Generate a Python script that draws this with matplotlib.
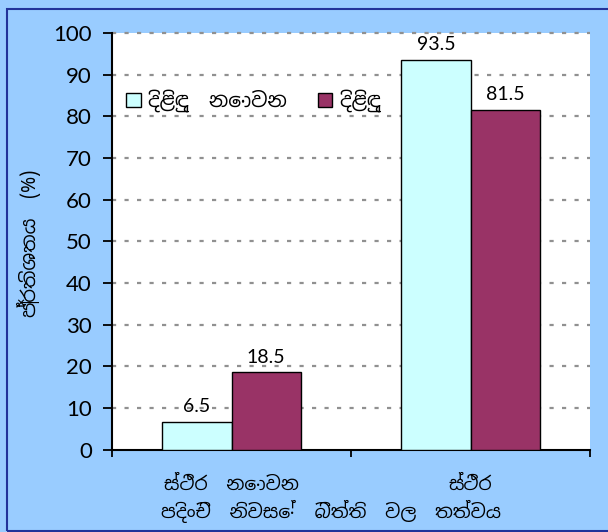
import matplotlib
matplotlib.use("Agg")
import matplotlib.pyplot as plt
from matplotlib.patches import Rectangle
import numpy as np

plt.rcParams['lines.scale_dashes'] = False

# data
categories = ["ස්ථිර  නොවන", "ස්ථිර"]
series_names = ["දිළිඳු  නොවන", "දිළිඳු"]
not_poor = [6.5, 93.5]
poor = [18.5, 81.5]
colors = ["#CCFFFF", "#993366"]
yticks = list(range(0, 101, 10))
xlabel = "පදිංචි  නිවසේ  බිත්ති  වල  තත්වය"
ylabel = "ප්‍රතිශතය  (%)"

sin = ['Noto Sans Sinhala', 'DejaVu Sans']
num = ['Lato', 'DejaVu Sans']

W, H = 608, 532
fig = plt.figure(figsize=(W / 100, H / 100), dpi=100)
fig.patch.set_facecolor("#99CCFF")
fig.patches.append(Rectangle((7 / W, 1.5 / H), 610 / W, 522 / H, transform=fig.transFigure,
                             fill=False, edgecolor="#22339A", lw=1.5))

ax = fig.add_axes([112 / W, 82.5 / H, 478 / W, 416.5 / H])
ax.set_facecolor("white")

x = np.arange(len(categories))
bw = 0.29
b1 = ax.bar(x - bw / 2, not_poor, bw, color=colors[0], edgecolor="black", lw=1, label=series_names[0], zorder=3)
b2 = ax.bar(x + bw / 2, poor, bw, color=colors[1], edgecolor="black", lw=1, label=series_names[1], zorder=3)
for bars in (b1, b2):
    ax.bar_label(bars, fmt="%.1f", padding=5, fontsize=14, family=num)

ax.set_xlim(-0.5, 1.5)
ax.set_ylim(0, 100)
ax.set_yticks(yticks)
ax.set_yticklabels([str(v) for v in yticks], family=num, fontsize=16)
for v in yticks[1:]:
    ax.axhline(v, color="#909090", lw=1.6, linestyle=(0, (3, 6)), zorder=1, clip_on=False)

ax.set_xticks([-0.5, 0.5, 1.5])
ax.set_xticklabels([])
ax.set_xticks(x, minor=True)
ax.set_xticklabels(categories, minor=True, family=sin, fontsize=13.5)
ax.tick_params(axis="x", which="minor", length=0, pad=19)
ax.tick_params(axis="x", which="major", direction="out", length=5, width=1.3)
ax.tick_params(axis="y", direction="out", length=6.5, width=1.3, pad=8)

for s in ["top", "right"]:
    ax.spines[s].set_visible(False)
for s in ["left", "bottom"]:
    ax.spines[s].set_linewidth(1.5)

fig.text(331 / W, (H - 511) / H, xlabel, family=sin, fontsize=13.5, ha="center", va="center")
fig.text(29 / W, (H - 243) / H, ylabel, family=sin, fontsize=14, ha="center", va="center", rotation=90)

ax.legend(loc="center left", bbox_to_anchor=(126 / W, (H - 101) / H), bbox_transform=fig.transFigure,
          ncol=2, frameon=False, prop={'family': sin, 'size': 14.5}, handlelength=0.72, handleheight=0.72,
          handletextpad=0.4, columnspacing=1.5, borderpad=0, borderaxespad=0)

fig.savefig("out.png", dpi=100, facecolor=fig.get_facecolor())
